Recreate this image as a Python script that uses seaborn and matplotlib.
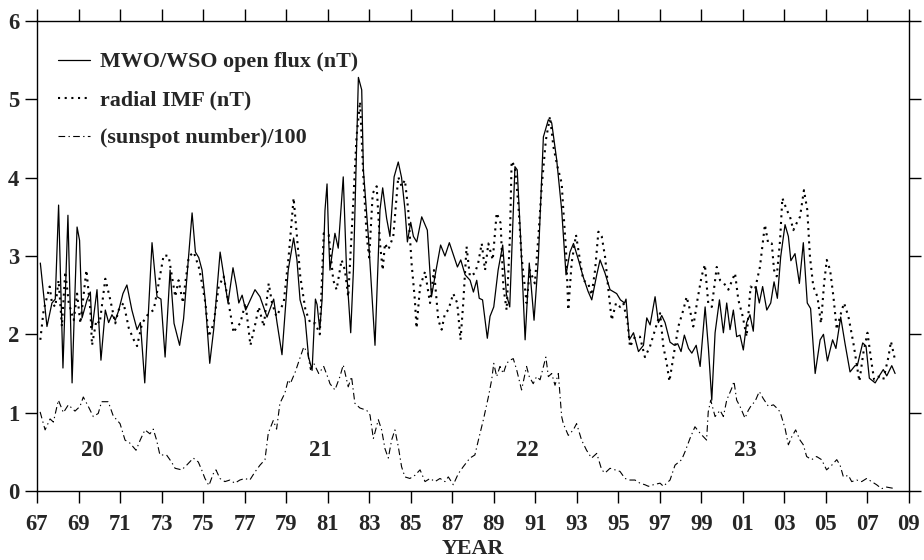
import numpy as np
import pandas as pd
import matplotlib
matplotlib.use("Agg")
import matplotlib.pyplot as plt
import seaborn as sns

# ---- data ----
flux_year = [1967.16, 1967.48, 1967.72, 1967.88, 1968.04, 1968.25, 1968.49, 1968.69, 1968.93, 1969.05,
             1969.17, 1969.41, 1969.57, 1969.65, 1969.89, 1970.08, 1970.29, 1970.45, 1970.61, 1970.77,
             1970.93, 1971.14, 1971.33, 1971.57, 1971.82, 1971.98, 1972.19, 1972.54, 1972.78, 1972.97,
             1973.17, 1973.41, 1973.60, 1973.87, 1974.06, 1974.47, 1974.63, 1974.79, 1974.95, 1975.10,
             1975.32, 1975.51, 1975.82, 1975.98, 1976.20, 1976.44, 1976.60, 1976.72, 1976.88, 1977.05,
             1977.29, 1977.50, 1977.74, 1978.08, 1978.40, 1978.56, 1978.80, 1979.10, 1979.36, 1979.52,
             1979.67, 1979.91, 1980.08, 1980.25, 1980.41, 1980.49, 1980.62, 1980.73, 1980.87, 1980.97,
             1981.05, 1981.11, 1981.35, 1981.51, 1981.75, 1981.91, 1982.11, 1982.24, 1982.48, 1982.64,
             1982.72, 1982.96, 1983.28, 1983.52, 1983.65, 1983.84, 1984.00, 1984.20, 1984.40, 1984.56,
             1984.72, 1984.84, 1985.00, 1985.13, 1985.29, 1985.53, 1985.80, 1986.00, 1986.22, 1986.44,
             1986.65, 1986.86, 1987.05, 1987.25, 1987.41, 1987.62, 1987.86, 1988.02, 1988.18, 1988.30,
             1988.46, 1988.69, 1988.82, 1989.00, 1989.21, 1989.43, 1989.61, 1989.77, 1990.02, 1990.13,
             1990.29, 1990.51, 1990.71, 1990.94, 1991.15, 1991.39, 1991.63, 1991.79, 1992.03, 1992.27,
             1992.48, 1992.67, 1992.84, 1993.08, 1993.30, 1993.54, 1993.72, 1993.96, 1994.12, 1994.36,
             1994.60, 1994.92, 1995.10, 1995.30, 1995.37, 1995.53, 1995.73, 1995.97, 1996.21, 1996.37,
             1996.53, 1996.77, 1996.93, 1997.09, 1997.25, 1997.49, 1997.70, 1997.86, 1998.02, 1998.18,
             1998.38, 1998.54, 1998.75, 1998.94, 1999.18, 1999.34, 1999.50, 1999.66, 1999.87, 2000.06,
             2000.22, 2000.38, 2000.54, 2000.70, 2000.86, 2001.02, 2001.18, 2001.34, 2001.50, 2001.63,
             2001.79, 2001.95, 2002.15, 2002.34, 2002.50, 2002.66, 2002.82, 2003.03, 2003.19, 2003.31,
             2003.51, 2003.72, 2003.91, 2004.10, 2004.26, 2004.48, 2004.72, 2004.88, 2005.07, 2005.32,
             2005.48, 2005.71, 2005.92, 2006.16, 2006.40, 2006.51, 2006.77, 2006.93, 2007.09, 2007.37,
             2007.57, 2007.76, 2007.93, 2008.17, 2008.33]
flux_val = [2.91, 2.10, 2.40, 2.45, 3.65, 1.57, 3.52, 1.38, 3.37, 3.20,
            2.21, 2.44, 2.54, 2.06, 2.57, 1.67, 2.31, 2.15, 2.25, 2.18,
            2.30, 2.52, 2.63, 2.31, 2.06, 2.15, 1.38, 3.17, 2.48, 2.45,
            1.71, 2.82, 2.14, 1.86, 2.20, 3.55, 3.05, 2.98, 2.82, 2.44,
            1.63, 2.06, 3.05, 2.78, 2.40, 2.85, 2.62, 2.40, 2.50, 2.31,
            2.45, 2.57, 2.48, 2.22, 2.45, 2.15, 1.74, 2.82, 3.23, 2.95,
            2.44, 2.21, 1.71, 1.54, 2.45, 2.38, 2.06, 2.44, 3.58, 3.92,
            3.20, 2.82, 3.29, 3.10, 4.01, 2.82, 2.02, 2.82, 5.28, 5.12,
            4.10, 3.25, 1.86, 3.59, 3.87, 3.48, 3.25, 4.01, 4.20, 4.00,
            3.60, 3.18, 3.43, 3.25, 3.18, 3.50, 3.33, 2.48, 2.82, 3.14,
            3.00, 3.17, 3.02, 2.86, 2.95, 2.76, 2.69, 2.54, 2.69, 2.46,
            2.44, 1.95, 2.23, 2.35, 2.82, 3.14, 2.51, 2.35, 4.14, 4.10,
            3.25, 1.93, 2.91, 2.18, 2.98, 4.52, 4.74, 4.70, 4.23, 3.59,
            2.76, 3.05, 3.16, 2.95, 2.74, 2.55, 2.44, 2.76, 2.95, 2.78,
            2.57, 2.52, 2.44, 2.40, 2.45, 1.93, 2.02, 1.78, 1.86, 2.21,
            2.12, 2.48, 2.15, 2.24, 2.15, 1.90, 1.86, 1.88, 1.78, 1.99,
            1.82, 1.76, 1.86, 1.59, 2.35, 1.82, 1.16, 2.02, 2.44, 2.02,
            2.40, 2.06, 2.31, 1.97, 1.99, 1.80, 2.15, 2.25, 2.04, 2.61,
            2.40, 2.61, 2.31, 2.40, 2.67, 2.46, 2.99, 3.40, 3.25, 2.94,
            3.03, 2.65, 3.17, 2.40, 2.33, 1.50, 1.93, 2.00, 1.66, 1.93,
            1.82, 2.22, 1.88, 1.52, 1.60, 1.60, 1.89, 1.85, 1.44, 1.38,
            1.47, 1.55, 1.47, 1.60, 1.50]

imf_year = [1967.16, 1967.32, 1967.61, 1967.72, 1967.88, 1968.04, 1968.20, 1968.36, 1968.53, 1968.77,
            1968.93, 1969.09, 1969.38, 1969.57, 1969.65, 1969.86, 1970.02, 1970.29, 1970.53, 1970.77,
            1970.93, 1971.17, 1971.42, 1971.66, 1971.82, 1972.06, 1972.38, 1972.62, 1972.86, 1973.10,
            1973.34, 1973.50, 1973.66, 1973.82, 1974.03, 1974.14, 1974.31, 1974.55, 1974.79, 1974.95,
            1975.11, 1975.27, 1975.51, 1975.75, 1975.99, 1976.23, 1976.47, 1976.63, 1976.79, 1977.04,
            1977.28, 1977.52, 1977.68, 1977.92, 1978.16, 1978.32, 1978.53, 1978.88, 1979.12, 1979.36,
            1979.52, 1979.68, 1979.93, 1980.17, 1980.41, 1980.62, 1980.81, 1981.05, 1981.27, 1981.43,
            1981.67, 1981.83, 1981.99, 1982.23, 1982.39, 1982.56, 1982.72, 1982.88, 1983.00, 1983.17,
            1983.36, 1983.52, 1983.65, 1983.76, 1983.92, 1984.16, 1984.40, 1984.56, 1984.72, 1984.88,
            1985.04, 1985.20, 1985.28, 1985.45, 1985.69, 1985.93, 1986.12, 1986.33, 1986.49, 1986.65,
            1986.81, 1987.05, 1987.24, 1987.40, 1987.53, 1987.69, 1987.85, 1988.09, 1988.25, 1988.42,
            1988.58, 1988.74, 1988.95, 1989.14, 1989.33, 1989.46, 1989.62, 1989.78, 1989.86, 1990.02,
            1990.18, 1990.34, 1990.58, 1990.74, 1990.98, 1991.15, 1991.31, 1991.51, 1991.71, 1991.87,
            1992.06, 1992.27, 1992.35, 1992.48, 1992.59, 1992.75, 1992.96, 1993.15, 1993.31, 1993.55,
            1993.71, 1993.88, 1994.04, 1994.20, 1994.36, 1994.52, 1994.68, 1994.89, 1995.08, 1995.24,
            1995.45, 1995.56, 1995.80, 1996.04, 1996.28, 1996.52, 1996.77, 1997.01, 1997.17, 1997.33,
            1997.46, 1997.65, 1997.89, 1998.13, 1998.29, 1998.45, 1998.61, 1998.81, 1999.01, 1999.17,
            1999.33, 1999.50, 1999.74, 1999.90, 2000.09, 2000.30, 2000.62, 2000.78, 2000.99, 2001.18,
            2001.37, 2001.58, 2001.82, 2002.06, 2002.22, 2002.39, 2002.50, 2002.63, 2002.79, 2002.90,
            2003.11, 2003.27, 2003.43, 2003.59, 2003.75, 2003.94, 2004.10, 2004.23, 2004.39, 2004.59,
            2004.76, 2004.91, 2005.04, 2005.20, 2005.36, 2005.52, 2005.68, 2005.87, 2006.08, 2006.32,
            2006.61, 2006.80, 2007.00, 2007.20, 2007.32, 2007.52, 2007.76, 2008.01, 2008.13, 2008.33]
imf_val = [1.93, 2.31, 2.61, 2.40, 2.35, 2.69, 2.10, 2.80, 2.40, 2.18,
           2.52, 2.14, 2.82, 2.31, 1.86, 2.18, 2.14, 2.71, 2.44, 2.14,
           2.31, 2.40, 2.08, 1.93, 1.85, 2.14, 2.27, 2.31, 2.65, 3.01,
           3.00, 2.74, 2.48, 2.69, 2.40, 2.65, 2.99, 3.05, 2.86, 2.65,
           2.40, 1.97, 2.14, 2.61, 2.74, 2.40, 2.02, 2.10, 2.14, 2.40,
           1.86, 2.14, 2.35, 2.10, 2.65, 2.40, 2.23, 2.40, 2.99, 3.74,
           3.25, 2.74, 2.31, 2.14, 2.14, 2.00, 3.29, 3.27, 2.69, 2.57,
           2.95, 2.82, 2.48, 3.67, 4.52, 4.97, 4.01, 3.25, 2.98, 3.80,
           3.89, 3.16, 2.82, 3.16, 3.08, 3.25, 4.01, 3.89, 3.97, 3.59,
           2.91, 2.44, 2.08, 2.61, 2.80, 2.40, 2.82, 2.18, 2.06, 2.27,
           2.31, 2.52, 2.40, 1.93, 2.40, 3.12, 2.74, 2.78, 2.91, 3.16,
           2.82, 3.16, 2.95, 3.55, 3.42, 2.61, 2.31, 3.25, 4.21, 4.14,
           3.67, 2.99, 2.40, 2.82, 2.65, 3.25, 3.89, 4.48, 4.78, 4.40,
           4.15, 3.93, 3.59, 3.08, 2.31, 2.91, 3.27, 2.95, 2.69, 2.65,
           2.50, 2.82, 3.31, 3.25, 2.99, 2.57, 2.18, 2.40, 2.35, 2.40,
           2.14, 1.84, 1.97, 1.97, 1.71, 1.84, 2.06, 2.27, 1.84, 1.63,
           1.40, 1.71, 2.10, 2.31, 2.48, 2.31, 2.10, 2.44, 2.74, 2.89,
           2.40, 2.35, 2.86, 2.69, 2.65, 2.57, 2.78, 2.44, 2.23, 1.97,
           2.61, 2.57, 2.86, 3.40, 3.16, 3.16, 2.82, 2.74, 3.20, 3.74,
           3.59, 3.50, 3.33, 3.42, 3.50, 3.84, 3.59, 2.99, 2.61, 2.48,
           2.14, 2.65, 2.95, 2.82, 2.48, 2.06, 2.23, 2.40, 2.23, 1.89,
           1.40, 1.76, 2.02, 1.63, 1.42, 1.46, 1.42, 1.71, 1.91, 1.67]

ssn_year = [1967.15, 1967.39, 1967.63, 1967.79, 1968.03, 1968.27, 1968.51, 1968.83, 1969.07, 1969.23,
            1969.47, 1969.71, 1969.95, 1970.11, 1970.43, 1970.67, 1971.00, 1971.24, 1971.48, 1971.77,
            1971.97, 1972.20, 1972.44, 1972.60, 1972.76, 1972.92, 1973.24, 1973.48, 1973.65, 1973.97,
            1974.21, 1974.53, 1974.77, 1974.93, 1975.09, 1975.28, 1975.49, 1975.62, 1975.81, 1976.05,
            1976.29, 1976.53, 1976.77, 1977.01, 1977.25, 1977.49, 1977.74, 1977.98, 1978.14, 1978.38,
            1978.54, 1978.70, 1978.94, 1979.10, 1979.20, 1979.44, 1979.68, 1979.85, 1980.04, 1980.17,
            1980.33, 1980.57, 1980.81, 1981.05, 1981.11, 1981.35, 1981.59, 1981.75, 1981.99, 1982.15,
            1982.31, 1982.55, 1982.88, 1983.04, 1983.20, 1983.44, 1983.60, 1983.76, 1983.92, 1984.08,
            1984.24, 1984.40, 1984.56, 1984.72, 1984.96, 1985.20, 1985.45, 1985.69, 1985.93, 1986.17,
            1986.41, 1986.65, 1986.81, 1987.05, 1987.29, 1987.53, 1987.85, 1988.09, 1988.26, 1988.50,
            1988.74, 1988.90, 1989.00, 1989.14, 1989.30, 1989.46, 1989.62, 1989.78, 1989.94, 1990.10,
            1990.34, 1990.58, 1990.71, 1990.90, 1991.06, 1991.23, 1991.51, 1991.63, 1991.79, 1991.95,
            1992.11, 1992.27, 1992.35, 1992.59, 1992.83, 1992.99, 1993.23, 1993.47, 1993.71, 1993.96,
            1994.20, 1994.36, 1994.60, 1994.84, 1995.08, 1995.32, 1995.56, 1995.80, 1996.04, 1996.28,
            1996.45, 1996.69, 1997.01, 1997.17, 1997.49, 1997.73, 1998.05, 1998.21, 1998.45, 1998.69,
            1998.93, 1999.25, 1999.33, 1999.45, 1999.66, 1999.90, 2000.06, 2000.22, 2000.46, 2000.57,
            2000.70, 2000.86, 2001.10, 2001.26, 2001.42, 2001.58, 2001.79, 2001.98, 2002.23, 2002.47,
            2002.63, 2002.79, 2003.03, 2003.19, 2003.35, 2003.54, 2003.75, 2003.91, 2004.07, 2004.31,
            2004.55, 2004.79, 2005.03, 2005.28, 2005.52, 2005.68, 2005.84, 2006.08, 2006.24, 2006.48,
            2006.72, 2006.96, 2007.20, 2007.44, 2007.68, 2007.92, 2008.33]
ssn_val = [1.01, 0.78, 0.92, 0.88, 1.16, 1.00, 1.10, 1.02, 1.08, 1.20,
           1.08, 0.95, 0.99, 1.14, 1.14, 0.96, 0.86, 0.65, 0.61, 0.52,
           0.65, 0.78, 0.73, 0.79, 0.65, 0.46, 0.46, 0.37, 0.29, 0.27,
           0.33, 0.42, 0.37, 0.27, 0.16, 0.07, 0.22, 0.27, 0.16, 0.12,
           0.14, 0.10, 0.14, 0.16, 0.14, 0.24, 0.33, 0.40, 0.74, 0.90,
           0.79, 1.12, 1.25, 1.42, 1.37, 1.52, 1.71, 1.84, 1.76, 1.55,
           1.63, 1.50, 1.59, 1.42, 1.37, 1.29, 1.46, 1.61, 1.33, 1.46,
           1.12, 1.06, 1.03, 0.97, 0.67, 0.91, 0.78, 0.54, 0.42, 0.65,
           0.78, 0.57, 0.31, 0.18, 0.16, 0.20, 0.27, 0.12, 0.16, 0.12,
           0.16, 0.12, 0.18, 0.08, 0.22, 0.31, 0.42, 0.46, 0.65, 0.91,
           1.20, 1.42, 1.63, 1.46, 1.59, 1.50, 1.63, 1.67, 1.69, 1.55,
           1.29, 1.59, 1.46, 1.37, 1.46, 1.42, 1.71, 1.46, 1.50, 1.35,
           1.50, 0.95, 0.86, 0.71, 0.78, 0.86, 0.65, 0.52, 0.42, 0.48,
           0.27, 0.23, 0.29, 0.27, 0.25, 0.16, 0.14, 0.14, 0.10, 0.08,
           0.06, 0.08, 0.10, 0.06, 0.14, 0.33, 0.40, 0.50, 0.67, 0.82,
           0.74, 0.65, 1.01, 1.16, 0.95, 1.03, 0.95, 1.16, 1.31, 1.40,
           1.16, 1.08, 0.93, 1.03, 1.10, 1.14, 1.27, 1.18, 1.08, 1.10,
           1.06, 1.01, 0.80, 0.59, 0.69, 0.78, 0.65, 0.59, 0.44, 0.40,
           0.44, 0.40, 0.27, 0.33, 0.40, 0.33, 0.18, 0.20, 0.12, 0.14,
           0.12, 0.16, 0.12, 0.08, 0.03, 0.05, 0.03]

labels = ["MWO/WSO open flux (nT)", "radial IMF (nT)", "(sunspot number)/100"]
cycle_names = ["20", "21", "22", "23"]
cycle_x = [1969.65, 1980.63, 1990.6, 2001.1]
cycle_y = [0.52, 0.52, 0.52, 0.52]
xtick_years = list(range(1967, 2010, 2))
xtick_labels = ["%02d" % (y % 100) for y in xtick_years]

# ---- style ----
sns.set_theme(style="ticks")
plt.rcParams["font.family"] = ["Liberation Serif", "DejaVu Serif"]
plt.rcParams["font.weight"] = "bold"
FS = 15.8

fig = plt.figure(figsize=(9.24, 5.60), dpi=100)
ax = fig.add_axes([37 / 924, 1 - 491 / 560, 872 / 924, 470 / 560])

sns.lineplot(x=flux_year, y=flux_val, ax=ax, color="black", lw=0.9,
             linestyle="-", label=labels[0], estimator=None, sort=False)
sns.lineplot(x=imf_year, y=imf_val, ax=ax, color="black", lw=1.5,
             linestyle=(0, (1, 2.2)), label=labels[1], estimator=None, sort=False)
sns.lineplot(x=ssn_year, y=ssn_val, ax=ax, color="black", lw=0.8,
             linestyle=(0, (6, 3, 1.2, 3)), label=labels[2], estimator=None, sort=False)

for name, cx, cy in zip(cycle_names, cycle_x, cycle_y):
    ax.text(cx, cy, name, fontsize=FS + 0.5, fontweight="bold", ha="center", va="center")

ax.set_xlim(1967, 2009)
ax.set_ylim(0, 6)
ax.set_xticks(xtick_years)
ax.set_xticklabels(xtick_labels)
ax.set_yticks(range(0, 7))
ax.set_xlabel("YEAR", fontsize=FS, fontweight="bold", labelpad=3)
ax.set_ylabel("")

for s in ax.spines.values():
    s.set_visible(True)
    s.set_linewidth(1.0)
    s.set_color("black")
ax.tick_params(axis="both", direction="out", length=8.6, width=1.0, color="black",
               labelsize=FS + 0.5, top=True, right=True, labeltop=False, labelright=False)
ax.tick_params(axis="x", pad=8)
ax.tick_params(axis="y", pad=4)
for t in ax.get_xticklabels() + ax.get_yticklabels():
    t.set_fontweight("bold")

leg = ax.legend(loc="upper left", bbox_to_anchor=(0.024, 0.934), frameon=False,
                borderaxespad=0, borderpad=0, handlelength=1.45, handletextpad=0.45,
                labelspacing=0.8, prop={"size": FS, "weight": "bold"})

fig.savefig("out.png", dpi=100)
